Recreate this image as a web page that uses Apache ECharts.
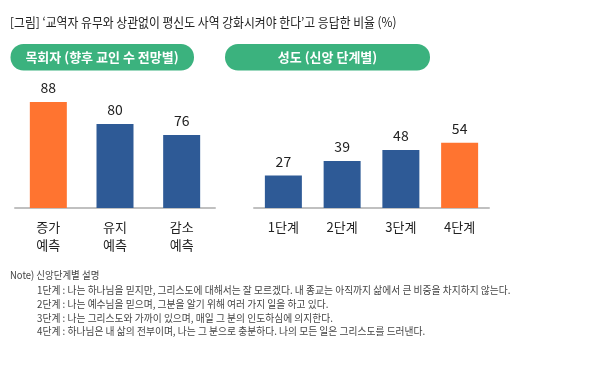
<!DOCTYPE html>
<html><head><meta charset="utf-8">
<script src="https://cdn.jsdelivr.net/npm/echarts@6/dist/echarts.min.js"></script>
<style>html,body{margin:0;padding:0;background:#fff}#c{width:594px;height:366px}</style>
</head><body><div id="c"></div>
<script>
var titleText = '[그림] ‘교역자 유무와 상관없이 평신도 사역 강화시켜야 한다’고 응답한 비율 (%)';
var pastorHeader = '목회자 (향후 교인 수 전망별)';
var memberHeader = '성도 (신앙 단계별)';
var pastorCats = ['증가\n예측', '유지\n예측', '감소\n예측'];
var pastorVals = [88, 80, 76];
var pastorHighlight = [true, false, false];
var memberCats = ['1단계', '2단계', '3단계', '4단계'];
var memberVals = [27, 39, 48, 54];
var memberHighlight = [false, false, false, true];
var noteTitle = 'Note) 신앙단계별 설명';
var noteLines = [
  '1단계 : 나는 하나님을 믿지만, 그리스도에 대해서는 잘 모르겠다. 내 종교는 아직까지 삶에서 큰 비중을 차지하지 않는다.',
  '2단계 : 나는 예수님을 믿으며, 그분을 알기 위해 여러 가지 일을 하고 있다.',
  '3단계 : 나는 그리스도와 가까이 있으며, 매일 그 분의 인도하심에 의지한다.',
  '4단계 : 하나님은 내 삶의 전부이며, 나는 그 분으로 충분하다. 나의 모든 일은 그리스도를 드러낸다.'
];

var FONT = '"Noto Sans CJK KR", "Noto Sans", sans-serif';
var BLUE = '#2e5a96', ORANGE = '#ff7430', GREEN = '#3bb27e';

function mk(vals, hl) {
  return vals.map(function (v, i) { return { value: v, itemStyle: { color: hl[i] ? ORANGE : BLUE } }; });
}

var chart = echarts.init(document.getElementById('c'), null, { renderer: 'canvas' });

var graphics = [
  { type: 'rect', shape: { x: 10.5, y: 44, width: 183.5, height: 26.5, r: 13 }, style: { fill: GREEN } },
  { type: 'text', x: 102, y: 57.5, style: { text: pastorHeader, fill: '#fff', font: 'bold 13px ' + FONT, textAlign: 'center', textVerticalAlign: 'middle' } },
  { type: 'rect', shape: { x: 225, y: 44, width: 205, height: 26.5, r: 13 }, style: { fill: GREEN } },
  { type: 'text', x: 327.5, y: 57.5, style: { text: memberHeader, fill: '#fff', font: 'bold 13px ' + FONT, textAlign: 'center', textVerticalAlign: 'middle' } },
  { type: 'text', x: 10, y: 22, scaleX: 0.91, style: { text: titleText, fill: '#222', font: '13px ' + FONT, textVerticalAlign: 'middle' } },
  { type: 'text', x: 10, y: 275, scaleX: 0.9, style: { text: noteTitle, fill: '#444', font: '10.5px ' + FONT, textVerticalAlign: 'middle' } }
];
var noteY = [290, 304, 318, 331.5];
noteLines.forEach(function (t, i) {
  graphics.push({ type: 'text', x: 37, y: noteY[i], scaleX: 0.93, style: { text: t, fill: '#444', font: '10.5px ' + FONT, textVerticalAlign: 'middle' } });
});

var axisLine = { show: true, lineStyle: { color: '#c0c0c0', width: 2 } };
var catLabel = { color: '#222', fontSize: 13, fontFamily: FONT, lineHeight: 18, margin: 10, interval: 0 };
var valLabel = { show: true, position: 'top', distance: 7, color: '#222', fontSize: 14, fontFamily: FONT };

chart.setOption({
  animation: false,
  textStyle: { fontFamily: FONT },
  graphic: graphics,
  grid: [
    { left: 15, width: 200, top: 69.1, height: 138.9 },
    { left: 254, width: 235, top: 87.2, height: 120.8 }
  ],
  xAxis: [
    { type: 'category', gridIndex: 0, data: pastorCats, axisLine: axisLine, axisTick: { show: false }, axisLabel: catLabel },
    { type: 'category', gridIndex: 1, data: memberCats, axisLine: axisLine, axisTick: { show: false }, axisLabel: catLabel }
  ],
  yAxis: [
    { type: 'value', gridIndex: 0, min: 49.5, max: 100, show: false, splitLine: { show: false } },
    { type: 'value', gridIndex: 1, min: 0, max: 100, show: false, splitLine: { show: false } }
  ],
  series: [
    { type: 'bar', xAxisIndex: 0, yAxisIndex: 0, barWidth: 37, data: mk(pastorVals, pastorHighlight), label: valLabel },
    { type: 'bar', xAxisIndex: 1, yAxisIndex: 1, barWidth: 37, data: mk(memberVals, memberHighlight), label: valLabel }
  ]
});
</script></body></html>
